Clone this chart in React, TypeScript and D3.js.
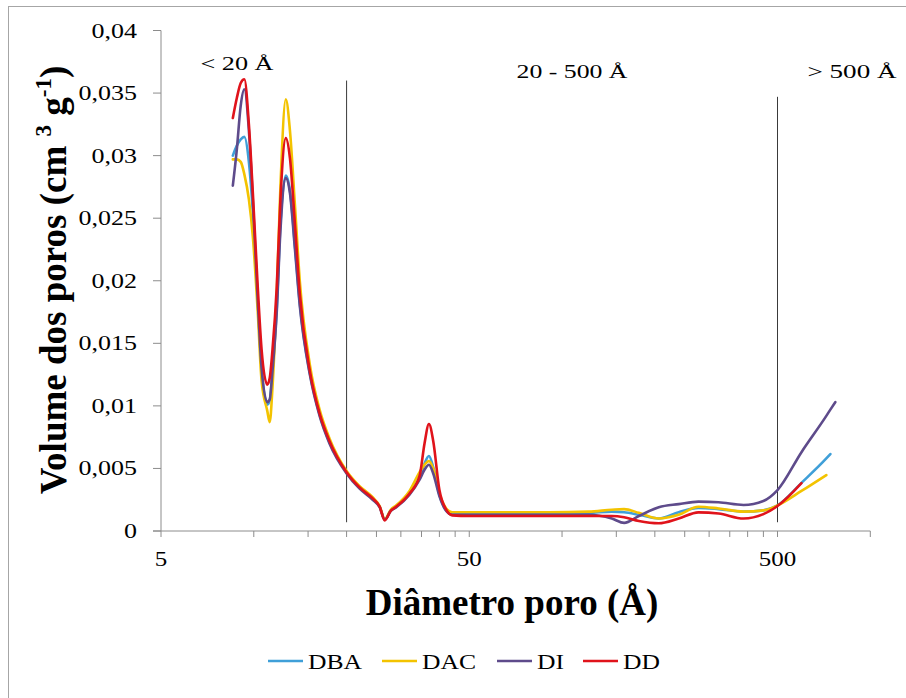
import React from 'react';
import * as d3 from 'd3';

// Pore diameter (Å) at which each volume reading was taken
const diameters = [
  8.55, 8.81, 9.07, 9.32, 9.64, 9.93, 10.3, 10.6, 11.06, 11.26,
  11.5, 11.87, 12.2, 12.7, 13.1, 13.6, 14.1, 15.2, 16.35, 17.6,
  20, 22, 24.3, 25.6, 26.6, 27.8, 29, 32, 34.5, 35.8,
  37, 38.2, 40, 42.1, 44, 50, 62.5, 90.7, 122, 145,
  159, 177.5, 206, 239, 277, 322, 388, 450, 500, 598,
  720, 742, 770,
];

// Pore volume (cm³ g⁻¹) per sample; null where the sample has no reading
const volumeDBA = [
  0.0300, 0.0308, 0.0313, 0.0315, 0.0295, 0.0255, 0.0184, 0.0130, 0.0101, 0.0104,
  0.0129, 0.0178, 0.0245, 0.0284, 0.0272, 0.0228, 0.0182, 0.0126, 0.0093, 0.0071,
  0.0047, 0.0035, 0.00255, 0.00195, 0.0009, 0.0016, 0.00195, 0.0030, 0.0043, 0.0054,
  0.0060, 0.0051, 0.0029, 0.00165, 0.00135, 0.0014, 0.0014, 0.0014, 0.00145, 0.00155,
  0.0015, 0.0013, 0.0010, 0.0015, 0.00185, 0.00175, 0.00155, 0.00165, 0.00205, 0.00385,
  0.0058, 0.00615, null,
];
const volumeDAC = [
  0.0297, 0.0297, 0.0295, 0.0285, 0.0265, 0.0235, 0.0175, 0.0120, 0.0096, 0.0087,
  0.0115, 0.0190, 0.0275, 0.0345, 0.0320, 0.0260, 0.0200, 0.0133, 0.0097, 0.0074,
  0.0048, 0.0036, 0.0027, 0.0020, 0.00095, 0.0017, 0.00205, 0.0032, 0.0047, 0.0053,
  0.0056, 0.0050, 0.0030, 0.0018, 0.0015, 0.0015, 0.0015, 0.0015, 0.00155, 0.0017,
  0.00175, 0.00145, 0.0010, 0.0013, 0.00194, 0.0018, 0.00155, 0.00165, 0.00205, 0.0032,
  0.00447, null, null,
];
const volumeDI = [
  0.0276, 0.0305, 0.0340, 0.0353, 0.0320, 0.0264, 0.0184, 0.0130, 0.0103, 0.0105,
  0.0128, 0.0175, 0.0240, 0.0282, 0.0270, 0.0225, 0.0180, 0.0125, 0.0092, 0.0070,
  0.0046, 0.0034, 0.0025, 0.0019, 0.0009, 0.0016, 0.0019, 0.0029, 0.0041, 0.0049,
  0.0053, 0.0046, 0.0028, 0.0016, 0.0013, 0.0013, 0.0013, 0.0013, 0.0013, 0.0010,
  0.00065, 0.0012, 0.0019, 0.00215, 0.00235, 0.0023, 0.00208, 0.0024, 0.00327, 0.0063,
  0.0092, 0.0097, 0.0103,
];
const volumeDD = [
  0.0330, 0.0346, 0.0358, 0.0361, 0.0325, 0.0270, 0.0195, 0.0145, 0.0117, 0.0122,
  0.0145, 0.0195, 0.0265, 0.0314, 0.0298, 0.0245, 0.0190, 0.0128, 0.0094, 0.0072,
  0.0047, 0.0035, 0.0026, 0.00195, 0.00085, 0.0016, 0.00195, 0.0030, 0.0044, 0.0070,
  0.00855, 0.0072, 0.0033, 0.0017, 0.00125, 0.0012, 0.0012, 0.0012, 0.0012, 0.0012,
  0.0011, 0.0008, 0.00062, 0.0010, 0.00149, 0.0014, 0.0010, 0.00135, 0.0020, 0.00383,
  null, null, null,
];

const seriesNames = ['DBA', 'DAC', 'DI', 'DD'];
const seriesValues = [volumeDBA, volumeDAC, volumeDI, volumeDD];
const seriesColors = ['#3f9fd8', '#f3c300', '#5e4b8b', '#e0131b'];

const yTickValues = [0, 0.005, 0.01, 0.015, 0.02, 0.025, 0.03, 0.035, 0.04];
const yTickLabels = ['0', '0,005', '0,01', '0,015', '0,02', '0,025', '0,03', '0,035', '0,04'];
const xTickValues = [
  5, 10, 15, 20, 25, 30, 35, 40, 45, 50,
  100, 150, 200, 250, 300, 350, 400, 450, 500, 1000,
];
const xLabelValues = [5, 50, 500];
const xTickLabels = ['5', '50', '500'];

// Pore-size class boundaries and the height of each marker line
const boundaryDiameters = [20, 500];
const boundaryTops = [0.036, 0.0347];
const regionTexts = ['< 20 Å', '20 - 500 Å', '> 500 Å'];

const W = 906;
const H = 698;
const serif = "'Liberation Serif', 'Times New Roman', serif";
const axisGray = '#8c8c8c';

const x = d3.scaleLog().domain([5, 1000]).range([161, 870.3]);
const y = d3.scaleLinear().domain([0, 0.04]).range([531, 30.5]);

type Pt = { d: number; v: number | null };

const line = d3
  .line<Pt>()
  .defined((p) => p.v !== null)
  .x((p) => x(p.d))
  .y((p) => y(p.v as number))
  .curve(d3.curveMonotoneX);

function Stretch({ px, py, sx, anchor, size, children }: any) {
  return (
    <g transform={`translate(${px},${py}) scale(${sx},1)`}>
      <text textAnchor={anchor} fontFamily={serif} fontSize={size} fill="#000">
        {children}
      </text>
    </g>
  );
}

export default function App() {
  const regionPos = [
    { px: 237, py: 70, len: 73 },
    { px: 572, py: 78, len: 111 },
    { px: 852, py: 78, len: 89 },
  ];
  const legendX = [268, 382, 497, 583];

  return (
    <svg
      width={W}
      height={H}
      style={{ position: 'absolute', left: 0, top: 0, background: '#fff' }}
    >
      <rect x={0} y={0} width={W} height={H} fill="#fff" />
      <rect x={8.5} y={6.5} width={1200} height={1200} fill="none" stroke="#a6a6a6" strokeWidth={1} />

      {/* axes */}
      <line x1={161} x2={161} y1={y(0.04)} y2={y(0)} stroke={axisGray} />
      <line x1={153} x2={x(1000)} y1={y(0)} y2={y(0)} stroke={axisGray} />
      {yTickValues.map((t) => (
        <line key={`yt${t}`} x1={153} x2={161} y1={y(t)} y2={y(t)} stroke={axisGray} />
      ))}
      {xTickValues.map((t) => (
        <line key={`xt${t}`} x1={x(t)} x2={x(t)} y1={y(0)} y2={y(0) + 6} stroke={axisGray} />
      ))}
      {yTickValues.map((t, i) => (
        <Stretch key={`yl${t}`} px={137} py={y(t) + 7} sx={1.3} anchor="end" size={20}>
          {yTickLabels[i]}
        </Stretch>
      ))}
      {xLabelValues.map((t, i) => (
        <Stretch key={`xl${t}`} px={x(t)} py={566} sx={1.25} anchor="middle" size={20}>
          {xTickLabels[i]}
        </Stretch>
      ))}

      {/* pore-size class boundaries */}
      {boundaryDiameters.map((d, i) => (
        <line
          key={`b${d}`}
          x1={x(d)}
          x2={x(d)}
          y1={y(boundaryTops[i])}
          y2={y(0.0007)}
          stroke="#3a3a3a"
          strokeWidth={1}
        />
      ))}
      {regionTexts.map((t, i) => (
        <text
          key={t}
          x={regionPos[i].px}
          y={regionPos[i].py}
          textAnchor="middle"
          fontFamily={serif}
          fontSize={19}
          textLength={regionPos[i].len}
          lengthAdjust="spacingAndGlyphs"
        >
          {t}
        </text>
      ))}

      {/* series */}
      {seriesValues.map((vals, i) => (
        <path
          key={seriesNames[i]}
          d={line(diameters.map((d, j) => ({ d, v: vals[j] }))) || ''}
          fill="none"
          stroke={seriesColors[i]}
          strokeWidth={2.6}
          strokeLinejoin="round"
          strokeLinecap="round"
        />
      ))}

      {/* axis titles */}
      <text
        x={512}
        y={615}
        textAnchor="middle"
        fontFamily={serif}
        fontWeight="bold"
        fontSize={37}
      >
        Diâmetro poro (Å)
      </text>
      <text
        transform="translate(66,280) rotate(-90)"
        textAnchor="middle"
        fontFamily={serif}
        fontWeight="bold"
        fontSize={37}
      >
        Volume dos poros (cm <tspan fontSize={23} dy={-15}>3</tspan>
        <tspan dy={15}> g</tspan>
        <tspan fontSize={23} dy={-15}>-1</tspan>
        <tspan dy={15}>)</tspan>
      </text>

      {/* legend */}
      {seriesNames.map((n, i) => (
        <g key={`lg${n}`}>
          <line
            x1={legendX[i]}
            x2={legendX[i] + 35}
            y1={661}
            y2={661}
            stroke={seriesColors[i]}
            strokeWidth={2.6}
          />
          <Stretch px={legendX[i] + 40} py={669} sx={1.28} anchor="start" size={20}>
            {n}
          </Stretch>
        </g>
      ))}
    </svg>
  );
}
